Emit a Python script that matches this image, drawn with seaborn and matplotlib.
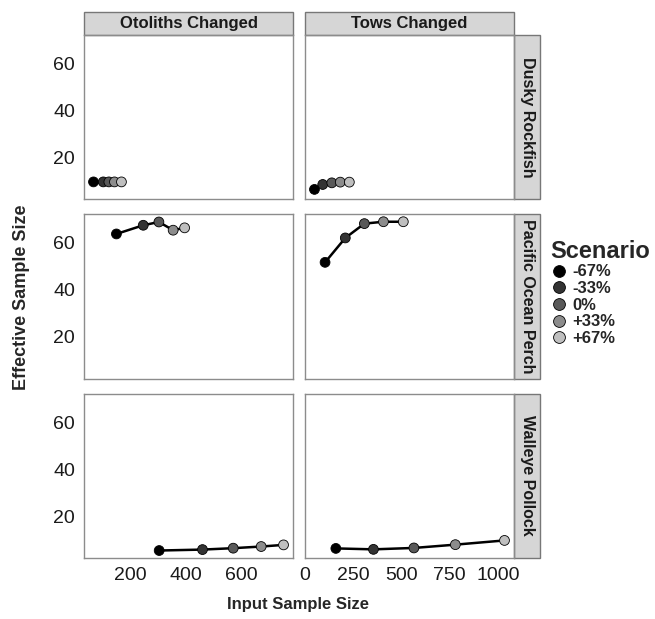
import pandas as pd
import matplotlib
matplotlib.use('Agg')
import matplotlib.pyplot as plt
import seaborn as sns
from matplotlib.patches import Rectangle
from matplotlib.lines import Line2D

# facets and scenarios
species = ['Dusky Rockfish', 'Pacific Ocean Perch', 'Walleye Pollock']
changes = ['Otoliths Changed', 'Tows Changed']
scenarios = ['-67%', '-33%', '0%', '+33%', '+67%']
scenario_colors = ['#000000', '#333333', '#595959', '#8c8c8c', '#bfbfbf']

# input / effective sample size per panel, in scenario order
dusky_oto_x = [70, 105, 125, 145, 170]
dusky_oto_y = [9.6, 9.6, 9.6, 9.6, 9.6]
dusky_tow_x = [49, 92, 139, 183, 230]
dusky_tow_y = [6.4, 8.5, 9.2, 9.5, 9.5]
pop_oto_x = [152, 248, 304, 355, 396]
pop_oto_y = [63.8, 67.5, 68.9, 65.4, 66.4]
pop_tow_x = [104, 209, 308, 407, 510]
pop_tow_y = [51.7, 62.1, 68.2, 69.0, 69.0]
pollock_oto_x = [305, 460, 570, 670, 750]
pollock_oto_y = [5.3, 5.7, 6.3, 7.0, 7.7]
pollock_tow_x = [160, 355, 565, 780, 1035]
pollock_tow_y = [6.2, 5.8, 6.4, 7.8, 9.6]

left_ticks = [200, 400, 600]
right_ticks = [0, 250, 500, 750, 1000]
y_ticks = [20, 40, 60]

panels = [
    ('Dusky Rockfish', 'Otoliths Changed', dusky_oto_x, dusky_oto_y),
    ('Dusky Rockfish', 'Tows Changed', dusky_tow_x, dusky_tow_y),
    ('Pacific Ocean Perch', 'Otoliths Changed', pop_oto_x, pop_oto_y),
    ('Pacific Ocean Perch', 'Tows Changed', pop_tow_x, pop_tow_y),
    ('Walleye Pollock', 'Otoliths Changed', pollock_oto_x, pollock_oto_y),
    ('Walleye Pollock', 'Tows Changed', pollock_tow_x, pollock_tow_y),
]

rows = []
for sp, ch, xs, ys in panels:
    for sc, x, y in zip(scenarios, xs, ys):
        rows.append({'Species': sp, 'Change': ch, 'Scenario': sc,
                     'Input': x, 'Effective': y})
df = pd.DataFrame(rows)

sns.set_style('white')
plt.rcParams['font.family'] = ['Liberation Sans', 'DejaVu Sans']

g = sns.FacetGrid(df, row='Species', col='Change',
                  row_order=species, col_order=changes,
                  sharex='col', sharey=True, despine=False,
                  height=2, aspect=1.2)
g.map_dataframe(sns.lineplot, x='Input', y='Effective',
                color='black', lw=1.8, estimator=None, sort=False)
g.map_dataframe(sns.scatterplot, x='Input', y='Effective',
                hue='Scenario', hue_order=scenarios, palette=scenario_colors,
                s=50, edgecolor='black', linewidth=0.6, zorder=3)

fig = g.figure
fig.set_size_inches(6.55, 6.19)
fig.subplots_adjust(left=84 / 655, right=514 / 655,
                    top=1 - 35 / 619, bottom=1 - 558 / 619,
                    wspace=0.057, hspace=0.09)
g.set_titles('')
g.set_axis_labels('', '')

frame = '#8c8c8c'
strip_fill = '#d6d6d6'
for i, sp in enumerate(species):
    for j, ch in enumerate(changes):
        ax = g.axes[i, j]
        for s in ax.spines.values():
            s.set_color(frame)
            s.set_linewidth(1)
        ax.set_yticks(y_ticks)
        ax.set_xticks(left_ticks if j == 0 else right_ticks)
        ax.tick_params(labelsize=14, colors='#1a1a1a', length=3,
                       width=0.8, color='#555555')
        if j > 0:
            ax.tick_params(axis='y', length=0)
        if i < 2:
            ax.tick_params(axis='x', length=0)
        if i == 0:
            ax.add_patch(Rectangle((0, 1), 1, 23 / 163, transform=ax.transAxes,
                                   clip_on=False, facecolor=strip_fill,
                                   edgecolor='#777777', lw=1))
            ax.text(0.5, 1 + 11.5 / 163, ch, transform=ax.transAxes,
                    ha='center', va='center', fontsize=12, fontweight='bold',
                    color='#1a1a1a')
        if j == 1:
            ax.add_patch(Rectangle((1, 0), 26 / 209, 1, transform=ax.transAxes,
                                   clip_on=False, facecolor=strip_fill,
                                   edgecolor='#777777', lw=1))
            ax.text(1 + 13 / 209, 0.5, sp, transform=ax.transAxes,
                    ha='center', va='center', rotation=-90, fontsize=11.5,
                    fontweight='bold', color='#1a1a1a')

handles = [Line2D([], [], marker='o', ls='', markersize=8.5,
                  markerfacecolor=c, markeredgecolor='black',
                  markeredgewidth=0.6) for c in scenario_colors]
leg = fig.legend(handles, scenarios, title='Scenario', loc='upper left',
                 bbox_to_anchor=(544 / 655, 1 - 233 / 619), frameon=False,
                 prop={'size': 12, 'weight': 'bold'}, handletextpad=0.3,
                 labelspacing=0.1, handlelength=1.0, borderaxespad=0)
leg.get_title().set_fontsize(17)
leg.get_title().set_fontweight('bold')
leg._legend_box.align = 'left'

fig.text(298 / 655, 1 - 605 / 619, 'Input Sample Size', ha='center',
         va='center', fontsize=12, fontweight='bold')
fig.text(22 / 655, 1 - 297 / 619, 'Effective Sample Size', ha='center',
         va='center', rotation=90, fontsize=13, fontweight='bold')

fig.savefig('out.png', dpi=100)
